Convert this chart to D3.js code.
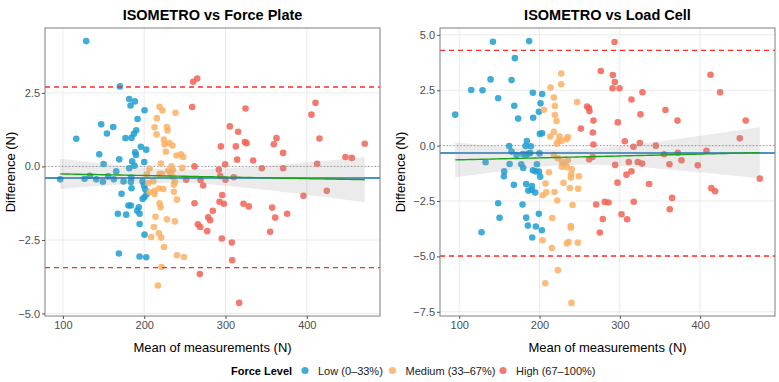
<!DOCTYPE html>
<html><head><meta charset="utf-8">
<script src="https://cdn.jsdelivr.net/npm/d3@7"></script>
<style>
body{margin:0;background:#fff}
svg text{font-family:"Liberation Sans",Arial,Helvetica,sans-serif}
</style>
</head><body>
<svg id="chart" width="779" height="382"></svg>
<script>
// ---------------- DATA (mean of measurements, difference) ----------------
const levels = ["Low (0–33%)", "Medium (33–67%)", "High (67–100%)"];
const levelColors = ["#1f9fd2", "#fdb063", "#f26356"];

const fpLow = [[128.7,4.26],[170.1,2.72],[181.6,2.29],[188.5,2.21],[183.2,2.07],[200.4,1.91],[191.8,1.61],[147.1,1.43],[161.9,1.34],[154.1,1.12],[190.2,1.23],[187.3,1.11],[116.4,0.94],[177.0,0.96],[184.4,0.97],[195.9,0.67],[202.5,0.57],[144.7,0.41],[188.9,0.48],[189.8,0.39],[169.3,0.24],[150.0,0.08],[185.2,0.17],[181.6,-0.06],[188.1,0.02],[200.0,0.15],[165.6,-0.17],[155.7,-0.34],[133.2,-0.32],[96.7,-0.44],[126.6,-0.42],[141.0,-0.44],[149.2,-0.52],[162.7,-0.44],[174.6,-0.51],[184.0,-0.39],[183.6,-0.53],[198.0,-0.51],[184.4,-0.74],[199.6,-0.65],[201.2,-0.78],[172.1,-0.93],[202.9,-0.95],[200.4,-1.04],[198.0,-1.11],[193.4,-1.39],[180.7,-1.33],[183.6,-1.33],[167.6,-1.61],[177.9,-1.64],[191.4,-1.51],[194.3,-1.61],[194.3,-1.96],[200.4,-2.32],[168.9,-2.96],[194.3,-3.06],[202.5,-3.09]];
const fpMedium = [[218.9,2.03],[222.5,1.90],[238.5,1.82],[215.6,1.64],[212.7,1.33],[227.9,1.34],[228.7,1.22],[215.2,1.09],[224.2,0.91],[225.0,0.75],[230.7,0.79],[234.8,0.71],[226.6,0.50],[239.8,0.37],[245.1,0.41],[248.0,0.32],[220.5,0.10],[206.6,-0.07],[233.6,0.00],[246.7,-0.05],[229.5,-0.14],[235.2,-0.12],[203.3,-0.27],[218.9,-0.25],[222.1,-0.26],[232.4,-0.24],[235.2,-0.36],[237.7,-0.53],[211.1,-0.51],[204.9,-0.57],[236.5,-0.62],[212.7,-0.83],[218.4,-0.75],[223.4,-0.77],[236.5,-0.86],[206.6,-0.88],[212.7,-0.94],[240.2,-1.13],[218.9,-1.25],[220.1,-1.39],[213.9,-1.71],[227.9,-1.80],[237.7,-1.87],[211.9,-2.06],[218.0,-2.27],[208.6,-2.40],[220.9,-2.42],[224.2,-2.74],[240.2,-3.02],[248.8,-3.08],[221.3,-3.42],[216.8,-4.05]];
const fpHigh = [[260.2,2.88],[265.2,2.99],[259.0,2.02],[324.6,1.97],[305.3,1.36],[315.6,1.18],[294.3,0.68],[312.7,0.68],[323.8,0.83],[325.8,0.79],[314.3,0.23],[334.0,0.20],[299.6,0.07],[261.9,0.00],[291.8,-0.11],[293.4,-0.33],[310.2,-0.37],[300.0,-0.45],[251.6,-0.45],[269.3,-0.46],[272.5,-0.65],[295.9,-0.97],[261.9,-1.25],[292.6,-1.20],[298.0,-1.27],[322.1,-1.27],[328.7,-1.36],[284.4,-1.51],[278.7,-1.73],[281.1,-1.83],[266.0,-1.97],[268.9,-2.06],[277.5,-2.20],[295.5,-2.45],[307.8,-2.59],[308.2,-3.19],[268.4,-3.66],[316.8,-4.64],[344.7,-0.06],[359.4,0.75],[362.7,0.96],[370.9,0.46],[370.9,-0.06],[405.7,1.76],[410.7,2.16],[415.6,0.95],[412.7,0.09],[447.5,0.32],[455.3,0.29],[471.3,0.77],[395.9,-1.00],[424.6,-0.83],[357.4,-1.40],[361.1,-1.74],[375.8,-1.61],[354.9,-2.22]];

const lcLow = [[141.9,4.69],[187.1,4.72],[169.3,3.95],[139.0,2.99],[165.1,2.96],[114.9,2.51],[129.0,2.50],[148.5,2.14],[191.7,2.39],[203.3,2.33],[95.0,1.40],[168.5,1.80],[201.2,1.91],[173.4,1.22],[192.1,1.26],[199.2,1.53],[200.4,0.53],[203.3,0.56],[184.2,0.21],[162.2,-0.02],[182.6,-0.02],[189.2,-0.03],[165.1,-0.27],[171.4,-0.42],[179.3,-0.38],[183.4,-0.41],[186.3,-0.36],[188.4,-0.33],[200.0,-0.35],[132.8,-0.75],[162.7,-0.83],[177.2,-0.84],[179.7,-1.01],[196.7,-0.84],[156.0,-1.16],[155.6,-1.38],[191.7,-1.11],[195.0,-1.16],[199.2,-1.17],[200.8,-1.40],[168.0,-1.77],[183.4,-1.73],[190.5,-1.82],[185.9,-2.03],[190.5,-2.00],[194.6,-2.12],[148.5,-2.60],[178.8,-2.66],[150.2,-3.26],[183.4,-3.25],[199.2,-3.08],[127.8,-3.91],[185.5,-3.61],[195.4,-3.65],[202.9,-3.82],[190.9,-4.15]];
const lcMedium = [[227.0,3.26],[227.0,2.77],[213.7,2.62],[217.8,2.17],[219.1,1.79],[205.4,1.62],[219.1,1.38],[221.2,1.11],[246.9,1.97],[213.3,0.41],[217.8,0.62],[224.9,0.41],[235.3,0.39],[233.6,0.29],[223.7,0.21],[227.4,0.21],[221.6,0.09],[217.8,-0.42],[222.8,-0.57],[227.8,-0.72],[230.7,-0.84],[235.3,-0.66],[227.8,-0.95],[234.0,-0.96],[240.2,-1.07],[239.4,-1.29],[239.0,-1.44],[249.0,-1.38],[211.6,-1.20],[229.9,-1.68],[207.5,-1.71],[237.8,-1.91],[248.1,-1.95],[208.3,-2.11],[204.1,-2.24],[218.7,-2.09],[222.0,-2.48],[241.1,-2.68],[215.8,-3.27],[239.0,-3.63],[239.0,-3.71],[203.7,-4.27],[215.4,-4.62],[236.1,-4.35],[234.0,-4.42],[247.7,-4.38],[222.8,-5.62],[207.1,-6.21],[239.8,-7.10]];
const lcHigh = [[293.4,4.68],[276.3,3.37],[291.3,3.19],[293.8,2.87],[290.9,2.59],[299.6,2.59],[328.2,2.41],[314.5,2.08],[259.3,1.77],[261.4,1.70],[262.2,1.56],[325.7,1.41],[267.2,1.13],[251.5,0.77],[297.5,1.05],[266.4,0.59],[306.2,0.20],[267.2,0.05],[317.0,-0.05],[324.9,0.12],[344.8,0.00],[266.0,-0.51],[261.8,-0.62],[294.2,-0.87],[311.2,-0.74],[322.4,-0.74],[327.8,-0.81],[308.3,-1.31],[314.5,-1.16],[297.1,-1.67],[336.5,-1.73],[270.5,-2.66],[281.3,-2.54],[285.9,-2.57],[317.4,-2.53],[302.1,-3.10],[309.1,-3.32],[278.8,-3.31],[275.1,-3.92],[412.9,3.20],[424.9,2.41],[356.8,1.61],[371.8,1.13],[456.8,1.13],[449.4,0.33],[355.2,-0.39],[372.2,-0.32],[407.9,-0.23],[361.8,-0.84],[376.8,-0.66],[397.1,-0.89],[474.3,-1.49],[414.1,-1.92],[418.7,-2.06],[365.1,-2.36],[362.2,-2.87]];

// summary lines (bias, limits of agreement)
const fpLines = {bias: -0.39, upper: 2.70, lower: -3.44};
const lcLines = {bias: -0.33, upper: 4.30, lower: -4.98};

const xTicks = [100, 200, 300, 400];
const fpYTicks = [-5, -2.5, 0, 2.5];
const lcYTicks = [-7.5, -5, -2.5, 0, 2.5, 5];

const panelTitles = ["ISOMETRO vs Force Plate", "ISOMETRO vs Load Cell"];
const xTitle = "Mean of measurements (N)";
const yTitle = "Difference (N)";
const legendTitle = "Force Level";

// ---------------- DRAWING ----------------
const svg = d3.select("#chart");
const plotTop = 28, plotBottom = 316;
const fmt = v => d3.format(".1f")(v).replace("-", "\u2212");

function expand(ext) { const r = ext[1] - ext[0]; return [ext[0] - 0.05 * r, ext[1] + 0.05 * r]; }

function drawPanel(groups, lines, yTicks, title, left, right, yTitleX) {
  const all = groups.flat();
  const x = d3.scaleLinear().domain(expand(d3.extent(all, d => d[0]))).range([left, right]);
  const yExt = d3.extent(all.map(d => d[1]).concat([lines.upper, lines.lower, 0]));
  const y = d3.scaleLinear().domain(expand(yExt)).range([plotBottom, plotTop]);
  const g = svg.append("g");

  // grid
  g.selectAll(".gx").data(xTicks).join("line")
    .attr("x1", d => x(d)).attr("x2", d => x(d)).attr("y1", plotTop).attr("y2", plotBottom)
    .attr("stroke", "#ebebeb").attr("stroke-width", 1);
  g.selectAll(".gy").data(yTicks).join("line")
    .attr("y1", d => y(d)).attr("y2", d => y(d)).attr("x1", left).attr("x2", right)
    .attr("stroke", "#ebebeb").attr("stroke-width", 1);

  // zero reference
  g.append("line").attr("x1", left).attr("x2", right).attr("y1", y(0)).attr("y2", y(0))
    .attr("stroke", "#8f8f8f").attr("stroke-width", 1).attr("stroke-dasharray", "1.2,2.2");

  // points
  groups.forEach((pts, i) => {
    g.append("g").selectAll("circle").data(pts).join("circle")
      .attr("cx", d => x(d[0])).attr("cy", d => y(d[1])).attr("r", 3.3)
      .attr("fill", levelColors[i]).attr("fill-opacity", 0.85);
  });

  // bias line
  g.append("line").attr("x1", left).attr("x2", right).attr("y1", y(lines.bias)).attr("y2", y(lines.bias))
    .attr("stroke", "#0b6fb2").attr("stroke-width", 1.5);

  // linear fit with 95% CI
  const n = all.length;
  const mx = d3.mean(all, d => d[0]), my = d3.mean(all, d => d[1]);
  const sxx = d3.sum(all, d => (d[0] - mx) ** 2);
  const sxy = d3.sum(all, d => (d[0] - mx) * (d[1] - my));
  const b = sxy / sxx, a = my - b * mx;
  const s = Math.sqrt(d3.sum(all, d => (d[1] - a - b * d[0]) ** 2) / (n - 2));
  const t = 1.975;
  const xe = d3.extent(all, d => d[0]);
  const grid = d3.range(0, 81).map(i => xe[0] + (xe[1] - xe[0]) * i / 80);
  const band = grid.map(v => {
    const f = a + b * v, se = s * Math.sqrt(1 / n + (v - mx) ** 2 / sxx);
    return {x: v, f, lo: f - t * se, hi: f + t * se};
  });
  g.append("path").datum(band)
    .attr("d", d3.area().x(d => x(d.x)).y0(d => y(d.lo)).y1(d => y(d.hi)))
    .attr("fill", "#999999").attr("fill-opacity", 0.2);
  g.append("path").datum(band)
    .attr("d", d3.line().x(d => x(d.x)).y(d => y(d.f)))
    .attr("fill", "none").attr("stroke", "#1aa31a").attr("stroke-width", 1.4);

  // limits of agreement
  [lines.upper, lines.lower].forEach(v => {
    g.append("line").attr("x1", left).attr("x2", right).attr("y1", y(v)).attr("y2", y(v))
      .attr("stroke", "#ff2a2a").attr("stroke-width", 1.4).attr("stroke-dasharray", "5,4");
  });

  // border
  g.append("rect").attr("x", left).attr("y", plotTop).attr("width", right - left).attr("height", plotBottom - plotTop)
    .attr("fill", "none").attr("stroke", "#7f7f7f").attr("stroke-width", 1);

  // axes
  const ax = g.append("g").attr("transform", `translate(0,${plotBottom})`)
    .call(d3.axisBottom(x).tickValues(xTicks).tickSize(3).tickPadding(2).tickFormat(d3.format("d")));
  ax.select(".domain").remove();
  ax.selectAll("line").attr("stroke", "#555");
  ax.selectAll("text").attr("fill", "#4d4d4d").attr("font-size", 11).attr("font-family", "Liberation Sans, Arial, sans-serif");
  const ay = g.append("g").attr("transform", `translate(${left},0)`)
    .call(d3.axisLeft(y).tickValues(yTicks).tickSize(3).tickPadding(2).tickFormat(fmt));
  ay.select(".domain").remove();
  ay.selectAll("line").attr("stroke", "#555");
  ay.selectAll("text").attr("fill", "#4d4d4d").attr("font-size", 11).attr("font-family", "Liberation Sans, Arial, sans-serif");

  // titles
  g.append("text").attr("x", (left + right) / 2).attr("y", 19.5).attr("text-anchor", "middle")
    .attr("font-size", 14.5).attr("font-weight", "bold").attr("fill", "#000").text(title);
  g.append("text").attr("x", (left + right) / 2).attr("y", 352).attr("text-anchor", "middle")
    .attr("font-size", 13).attr("fill", "#000").text(xTitle);
  g.append("text").attr("transform", `translate(${yTitleX},${(plotTop + plotBottom) / 2}) rotate(-90)`)
    .attr("text-anchor", "middle").attr("font-size", 13).attr("fill", "#000").text(yTitle);
}

drawPanel([fpLow, fpMedium, fpHigh], fpLines, fpYTicks, panelTitles[0], 45, 380, 15);
drawPanel([lcLow, lcMedium, lcHigh], lcLines, lcYTicks, panelTitles[1], 440, 775, 405);

// legend
const lg = svg.append("g");
lg.append("text").attr("x", 231).attr("y", 374.5).attr("font-size", 11).attr("font-weight", "bold").text(legendTitle);
const keyX = [305, 392.5, 503];
levels.forEach((lab, i) => {
  lg.append("circle").attr("cx", keyX[i]).attr("cy", 370.5).attr("r", 3.6)
    .attr("fill", levelColors[i]).attr("fill-opacity", 0.85);
  lg.append("text").attr("x", keyX[i] + 13).attr("y", 374.5).attr("font-size", 11).attr("fill", "#1a1a1a").text(lab);
});
</script>
</body></html>
